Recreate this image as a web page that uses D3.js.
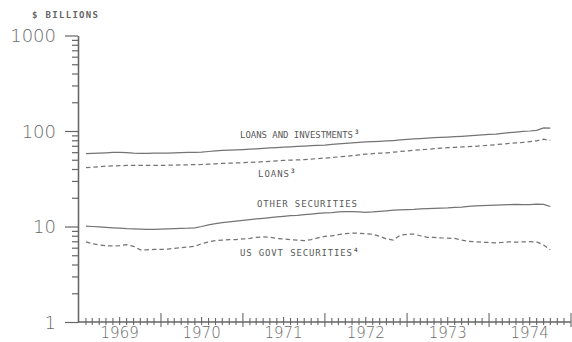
<!DOCTYPE html>
<html><head><meta charset="utf-8">
<script src="https://cdn.jsdelivr.net/npm/d3@7"></script>
<style>
html,body{margin:0;padding:0;background:#fff;}
svg{display:block;}
</style></head>
<body>
<svg id="chart" width="572" height="342"></svg>
<script>
// Monthly observations (end of month), Jan 1969 – Sep 1974
const months = [
 "1969-01","1969-02","1969-03","1969-04","1969-05","1969-06","1969-07","1969-08","1969-09","1969-10","1969-11","1969-12",
 "1970-01","1970-02","1970-03","1970-04","1970-05","1970-06","1970-07","1970-08","1970-09","1970-10","1970-11","1970-12",
 "1971-01","1971-02","1971-03","1971-04","1971-05","1971-06","1971-07","1971-08","1971-09","1971-10","1971-11","1971-12",
 "1972-01","1972-02","1972-03","1972-04","1972-05","1972-06","1972-07","1972-08","1972-09","1972-10","1972-11","1972-12",
 "1973-01","1973-02","1973-03","1973-04","1973-05","1973-06","1973-07","1973-08","1973-09","1973-10","1973-11","1973-12",
 "1974-01","1974-02","1974-03","1974-04","1974-05","1974-06","1974-07","1974-08","1974-09"
];
const loansAndInvestments = [
 58,58.2,58.5,59,59.6,59.8,59.2,58.6,58.3,58.4,58.5,58.6,
 58.8,59,59.2,59.6,59.8,60.2,61,61.8,62.5,63,63.5,64,
 64.5,65,65.8,66.5,67,67.6,68.3,69,69.6,70.2,70.8,71.3,
 72.3,73.3,74.2,75,75.8,76.8,77.6,78,78.6,79.5,80.5,81.5,
 82.5,83.3,84.2,85,85.8,86.5,87.2,88,89,90,91,92,
 93,94.5,96,97.5,99,100,101.5,108,107
];
const loans = [
 41.3,41.8,42.3,42.8,43.1,43.4,43.6,43.7,43.7,43.7,43.7,43.7,
 43.8,44,44.2,44.3,44.4,44.6,45,45.4,45.8,46,46.3,46.6,
 46.9,47.2,47.7,48.2,48.7,49.2,49.6,49.8,50.2,50.8,51.5,52,
 52.8,53.5,54.3,55.2,56.2,57.2,58,58.5,59,60,61,62,
 62.8,63.6,64.4,65.2,66,66.8,67.4,68,68.6,69.2,70,70.8,
 72,73,74,75,76,77.5,79,82,79.5
];
const otherSecurities = [
 10.1,10.0,9.9,9.8,9.7,9.6,9.5,9.45,9.4,9.35,9.35,9.4,
 9.45,9.5,9.55,9.6,9.7,10.0,10.4,10.7,11.0,11.2,11.4,11.6,
 11.8,12.0,12.2,12.4,12.6,12.8,13.0,13.1,13.3,13.5,13.7,13.9,
 14.0,14.2,14.3,14.3,14.2,14.1,14.2,14.4,14.6,14.8,14.9,15.0,
 15.1,15.3,15.4,15.5,15.6,15.7,15.9,16.0,16.2,16.4,16.5,16.6,
 16.7,16.8,16.9,17.0,16.9,16.9,17.1,17.0,16.2
];
const usGovtSecurities = [
 6.9,6.6,6.4,6.3,6.25,6.3,6.45,6.2,5.7,5.7,5.75,5.75,
 5.8,5.9,6.0,6.1,6.2,6.6,6.9,7.1,7.2,7.3,7.3,7.4,
 7.5,7.7,7.8,7.7,7.5,7.4,7.3,7.2,7.1,7.3,7.6,7.9,
 8.0,8.2,8.4,8.5,8.5,8.4,8.3,7.9,7.4,7.2,8.1,8.3,
 8.3,8.0,7.7,7.7,7.6,7.55,7.5,7.2,7.0,6.9,6.85,6.8,
 6.75,6.8,6.9,6.85,6.9,6.95,6.9,6.4,5.7
];
const yearLabels = ["1969","1970","1971","1972","1973","1974"];
const yMajorTicks = [1,10,100,1000];
const yUnitLabel = "$ BILLIONS";
const seriesLabels = [
 {name:"LOANS AND INVESTMENTS", note:"3"},
 {name:"LOANS", note:"3"},
 {name:"OTHER SECURITIES", note:""},
 {name:"US GOVT SECURITIES", note:"4"}
];

const svg = d3.select("#chart");
const parse = d3.timeParse("%Y-%m");
const dates = months.map(m => d3.timeMonth.offset(parse(m), 1));

const x = d3.scaleTime().domain([new Date(1969,0,1), new Date(1975,0,1)]).range([79, 571]);
const y = d3.scaleLog().domain([1,1000]).range([322, 35.5]);

const axisColor = "#666";
const lineColor = "#747474";

// Y axis: minor ticks
const minorVals = [];
[1,10,100].forEach(dec => { for (let k=2;k<=9;k++) minorVals.push(dec*k); });
const gMinor = svg.append("g").attr("transform","translate(78,0)")
  .call(d3.axisLeft(y).tickValues(minorVals).tickSize(6).tickSizeOuter(0).tickFormat(""));
const gMajor = svg.append("g").attr("transform","translate(78,0)")
  .call(d3.axisLeft(y).tickValues(yMajorTicks).tickSize(13).tickSizeOuter(0).tickPadding(9)
    .tickFormat(d3.format("d")));
[gMinor,gMajor].forEach(g=>{
  g.selectAll("path.domain").attr("stroke",axisColor).attr("stroke-width",1.3);
  g.selectAll(".tick line").attr("stroke",axisColor).attr("stroke-width",1.2);
});
gMajor.selectAll(".tick text")
  .attr("fill","#6a6a6a").attr("font-family","'DejaVu Sans', sans-serif")
  .attr("font-weight",200).attr("font-size",18).attr("dy","0.36em");

// X axis baseline
const gx = svg.append("g").attr("transform","translate(0,322)");
gx.append("line").attr("x1",x.range()[0]-1).attr("x2",x.range()[1])
  .attr("y1",0).attr("y2",0).attr("stroke",axisColor).attr("stroke-width",1.3);
const tickMonths = d3.timeMonth.range(new Date(1969,1,1), new Date(1975,0,2));
gx.selectAll("line.t").data(tickMonths).join("line").attr("class","t")
  .attr("x1",d=>x(d)).attr("x2",d=>x(d))
  .attr("y1",d=> d.getMonth()===0 ? -9 : (d.getMonth()===6 ? -5 : -4))
  .attr("y2",d=> d.getMonth()===0 ? 5 : 3)
  .attr("stroke",axisColor).attr("stroke-width",1.1);
gx.selectAll("text.yr").data(yearLabels).join("text").attr("class","yr")
  .attr("x",d=>x(new Date(+d,6,1))).attr("y",16)
  .attr("text-anchor","middle")
  .attr("fill","#6a6a6a").attr("font-family","'DejaVu Sans', sans-serif")
  .attr("font-weight",200).attr("font-size",15)
  .text(d=>d);

// Unit label
svg.append("text").attr("x",32).attr("y",17.5).text(yUnitLabel)
  .attr("font-family","'DejaVu Sans Mono', monospace").attr("font-size",9)
  .attr("font-weight","bold").attr("fill","#666")
  .attr("textLength",66).attr("lengthAdjust","spacing");

// Lines
const line = d3.line().x((d,i)=>x(dates[i])).y(d=>y(d)).curve(d3.curveLinear);
const series = [
  {vals:loansAndInvestments, dash:null},
  {vals:loans, dash:"4.5,3"},
  {vals:otherSecurities, dash:null},
  {vals:usGovtSecurities, dash:"4.5,3"}
];
svg.selectAll("path.series").data(series).join("path").attr("class","series")
  .attr("d",d=>line(d.vals)).attr("fill","none")
  .attr("stroke",lineColor).attr("stroke-width",1.25)
  .attr("stroke-dasharray",d=>d.dash);

// Series labels
const labelPos = [
  {x:240, y:138, w:113},
  {x:258, y:177, w:31},
  {x:257, y:206.5, w:100},
  {x:240, y:255.5, w:112}
];
seriesLabels.forEach((s,i)=>{
  const p = labelPos[i];
  svg.append("text").attr("x",p.x).attr("y",p.y).text(s.name)
    .attr("font-family","'DejaVu Sans Mono', monospace").attr("font-size",9)
    .attr("fill","#5a5a5a").attr("textLength",p.w).attr("lengthAdjust","spacing");
  if (s.note) {
    svg.append("text").attr("x",p.x+p.w+2).attr("y",p.y-4).text(s.note)
      .attr("font-family","'DejaVu Sans Mono', monospace").attr("font-size",6)
      .attr("font-weight","bold").attr("fill","#5a5a5a");
  }
});
</script>
</body></html>
